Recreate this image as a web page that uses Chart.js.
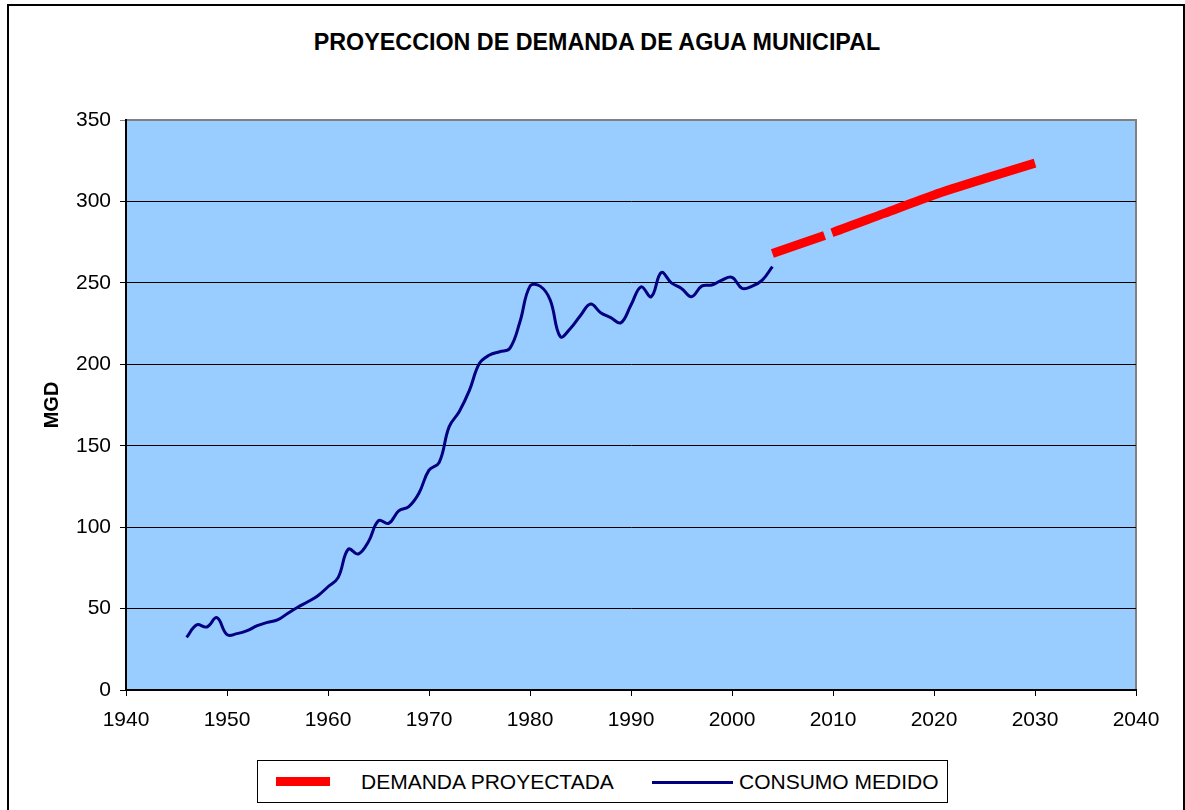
<!DOCTYPE html>
<html>
<head>
<meta charset="utf-8">
<script src="https://cdn.jsdelivr.net/npm/chart.js"></script>
<style>
    body { margin: 0; background: #fff; font-family: "Liberation Sans", Arial, sans-serif; }
    #frame { position: absolute; left: 7px; top: 4px; width: 1174px; height: 830px; border: 2px solid #000; }
    #chart-title { position: absolute; left: 0; width: 1194px; top: 28px; line-height: 28px; text-align: center; font-weight: bold; font-size: 23.3px; color: #000; }
    #language-chart { position: absolute; left: 0; top: 0; }
    #legend { position: absolute; left: 257px; top: 760px; width: 689px; height: 41px; border: 1px solid #000; background: #fff; font-size: 21px; }
    #legend span { position: absolute; }
    #legend .txt { top: 9px; line-height: 24px; }
</style>
</head>
<body>
<div id="frame"></div>
<div id="chart-title">PROYECCION DE DEMANDA DE AGUA MUNICIPAL</div>
<canvas id="language-chart" width="1185" height="810"></canvas>
<div id="legend">
    <span id="lg-red" style="left:18px; top:16px; width:54px; height:9px;"></span>
    <span class="txt" style="left:103px;">DEMANDA PROYECTADA</span>
    <span id="lg-navy" style="left:394px; top:20px; width:81px; height:3px;"></span>
    <span class="txt" style="left:481px;">CONSUMO MEDIDO</span>
</div>
<script>
// measured consumption (MGD), one value per year
const consumoYears = [];
for (let y = 1946; y <= 2004; y++) consumoYears.push(y);
const consumoValues = [
    32.3, 40, 38.7, 44.4, 34, 34.6, 36.4, 39.5, 41.5, 43,
    47, 50.8, 54.2, 57.9, 63.4, 69, 86.4, 83.5, 91, 104,
    102.3, 110, 112.6, 120.8, 135, 139.6, 161.7, 171, 184, 200.6,
    205.7, 207.7, 209.8, 226, 248, 248, 239.5, 217, 222, 230,
    237, 231.7, 228.6, 225.5, 236.4, 247.6, 241.5, 256.3, 250, 246.6,
    241.5, 248, 248.7, 251.7, 253.4, 246.6, 248, 251.7, 260
];

// projected demand
const demandaYears = [2004, 2010, 2015, 2020, 2025, 2030];
const demandaValues = [268, 281, 292.5, 304, 314, 323.5];

const xTicks = [1940, 1950, 1960, 1970, 1980, 1990, 2000, 2010, 2020, 2030, 2040];
const yTicks = [0, 50, 100, 150, 200, 250, 300, 350];

const RED = '#FF0000';
const NAVY = '#000080';

document.addEventListener("DOMContentLoaded", function() {
    document.getElementById("lg-red").style.background = RED;
    document.getElementById("lg-navy").style.background = NAVY;

    const canvas = document.getElementById("language-chart");
    const ctx = canvas.getContext("2d");

    // light blue plot area with grey frame
    const plotBackground = {
        id: 'plotBackground',
        beforeDraw(chart) {
            const { ctx, chartArea: { left, top, right, bottom } } = chart;
            ctx.save();
            ctx.fillStyle = '#99CCFF';
            ctx.fillRect(left, top, right - left, bottom - top);
            ctx.strokeStyle = '#808080';
            ctx.lineWidth = 2;
            ctx.beginPath();
            ctx.moveTo(left, top);
            ctx.lineTo(right, top);
            ctx.lineTo(right, bottom);
            ctx.stroke();
            ctx.restore();
        }
    };

    const font = { family: '"Liberation Sans", Arial, sans-serif', size: 21 };

    new Chart(ctx, {
        type: 'line',
        data: {
            datasets: [{
                label: 'DEMANDA PROYECTADA',
                data: demandaYears.map((x, i) => ({ x: x, y: demandaValues[i] })),
                borderColor: RED,
                backgroundColor: RED,
                borderWidth: 9,
                borderDash: [55, 8, 3000, 0],
                pointRadius: 0,
                tension: 0.3
            }, {
                label: 'CONSUMO MEDIDO',
                data: consumoYears.map((x, i) => ({ x: x, y: consumoValues[i] })),
                borderColor: NAVY,
                backgroundColor: NAVY,
                borderWidth: 3,
                pointRadius: 0,
                tension: 0.4
            }]
        },
        plugins: [plotBackground],
        options: {
            responsive: false,
            animation: false,
            devicePixelRatio: 1,
            layout: { padding: { top: 120, right: 49, left: 0, bottom: 0 } },
            plugins: {
                legend: { display: false },
                tooltip: { enabled: false }
            },
            scales: {
                x: {
                    type: 'linear',
                    min: 1940,
                    max: 2040,
                    afterFit: scale => { scale.height = 120; },
                    afterBuildTicks: scale => { scale.ticks = xTicks.map(v => ({ value: v })); },
                    grid: { drawOnChartArea: false, drawTicks: true, tickLength: 6, color: '#000' },
                    border: { color: '#000', width: 2 },
                    ticks: { color: '#000', font: font, padding: 12, maxRotation: 0, callback: v => String(v) }
                },
                y: {
                    min: 0,
                    max: 350,
                    afterFit: scale => { scale.width = 126; },
                    afterBuildTicks: scale => { scale.ticks = yTicks.map(v => ({ value: v })); },
                    grid: {
                        color: c => (c.tick && c.tick.value === 350) ? '#808080' : '#000',
                        lineWidth: 1,
                        tickLength: 6
                    },
                    border: { color: '#000', width: 2 },
                    ticks: { color: '#000', font: font, padding: 9 },
                    title: {
                        display: true,
                        text: 'MGD',
                        color: '#000',
                        font: { family: font.family, size: 20, weight: 'bold' },
                        padding: { top: 40, bottom: 0 }
                    }
                }
            }
        }
    });
});
</script>
</body>
</html>
